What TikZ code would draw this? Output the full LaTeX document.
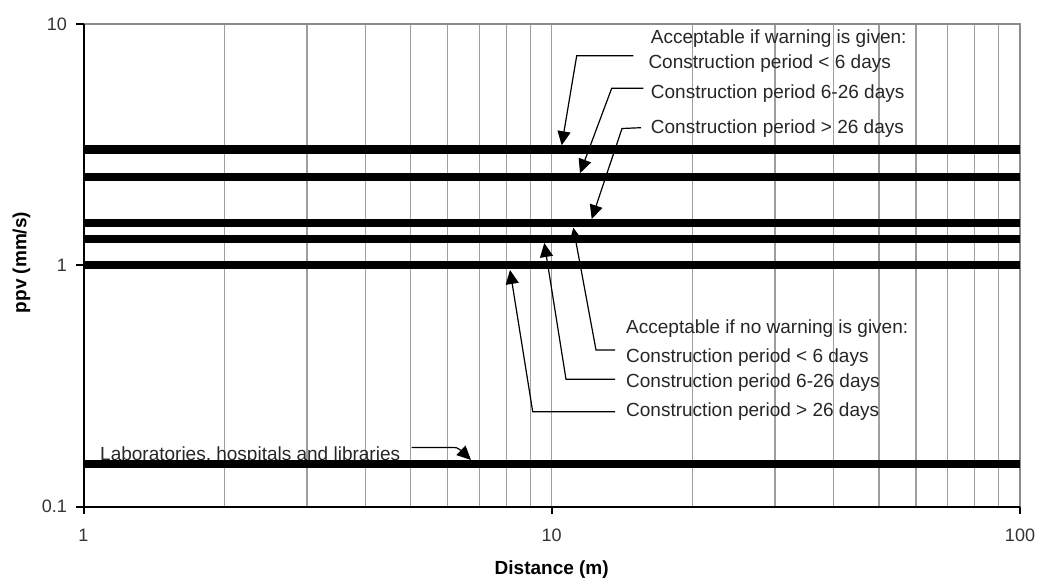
\documentclass[tikz,border=0pt]{standalone}
\usepackage{fontspec}
\setmainfont{Liberation Sans}
\usetikzlibrary{arrows.meta}
\begin{document}
\begin{tikzpicture}[x=1pt,y=-1pt,
  gridline/.style={draw=black!38,line width=1.3pt},
  frameline/.style={draw=black!45,line width=2.2pt},
  axisline/.style={draw=black,line width=2pt},
  dataline/.style={draw=black,line width=8pt},
  leader/.style={draw=black,line width=1.2pt,-{Triangle[length=14pt,width=13pt]}},
  lbl/.style={font=\fontsize{19}{22}\selectfont,inner sep=0pt,anchor=base west,text=black!85},
  ticklbl/.style={font=\fontsize{18}{21}\selectfont,inner sep=0pt,text=black!80},
  axtitle/.style={font=\fontsize{19}{22}\selectfont\bfseries,inner sep=0pt}]
\useasboundingbox (0,0) rectangle (1037,580);
% vertical grid
\foreach \k in {2,...,9,10,20,30,40,50,60,70,80,90} {
  \draw[gridline] ({83.5+468.2*log10(\k)},24) -- ({83.5+468.2*log10(\k)},506.5);
}
\draw[frameline] (83.5,24) -- (1020,24) -- (1020,506.5);
% labels
\node[lbl] (wt) at (650.7,43.3) {Acceptable if warning is given:};
\node[lbl] (w1) at (648.3,68.3) {Construction period < 6 days};
\node[lbl] (w2) at (650.7,99) {Construction period 6-26 days};
\node[lbl] (w3) at (650.7,133.3) {Construction period > 26 days};
\node[lbl] (nt) at (626,333.5) {Acceptable if no warning is given:};
\node[lbl] (n1) at (626,362.3) {Construction period < 6 days};
\node[lbl] (n2) at (626,387) {Construction period 6-26 days};
\node[lbl] (n3) at (626,416.7) {Construction period > 26 days};
\node[lbl] (lab) at (100,460.5) {Laboratories, hospitals and libraries};
% data lines
\draw[dataline,line width=9pt] (83.5,149.6) -- (1020,149.6);
\draw[dataline] (83.5,177.5) -- (1020,177.5);
\draw[dataline] (83.5,223.3) -- (1020,223.3);
\draw[dataline] (83.5,238.8) -- (1020,238.8);
\draw[dataline] (83.5,265.3) -- (1020,265.3);
\draw[dataline] (83.5,464) -- (1020,464);
% axes
\draw[axisline] (83.5,24) -- (83.5,506.5) -- (1020,506.5);
\foreach \yy in {24,265.3,506.5} { \draw[axisline] (76,\yy) -- (83.5,\yy); }
\foreach \xx in {83.5,551.7,1020} { \draw[axisline] (\xx,506.5) -- (\xx,513.5); }
% tick labels
\node[ticklbl,anchor=east] (y10) at (67,24) {10};
\node[ticklbl,anchor=east] (y1) at (67,265.5) {1};
\node[ticklbl,anchor=east] (y01) at (67,506.5) {0.1};
\node[ticklbl] (x1) at (83.5,535) {1};
\node[ticklbl] (x10) at (551.7,535) {10};
\node[ticklbl] (x100) at (1020,535) {100};
\node[axtitle] (xt) at (551.7,570) {Distance (m)};
\node[axtitle,rotate=90] (yt) at (21.5,262.5) {ppv (mm/s)};
% leader coordinates
\coordinate (w1s) at (633.3,55.7); \coordinate (w1c) at (576.7,55.7); \coordinate (w1t) at (561.7,145.3);
\coordinate (w2s) at (643.3,88.3); \coordinate (w2c) at (611.7,88.3); \coordinate (w2t) at (580,173.2);
\coordinate (w3s) at (641,127.7); \coordinate (w3c) at (622,128.5); \coordinate (w3t) at (591.7,219);
\coordinate (n1s) at (615,350); \coordinate (n1c) at (596,350); \coordinate (n1t) at (573.3,227.6);
\coordinate (n2s) at (615,379.3); \coordinate (n2c) at (566,379.3); \coordinate (n2t) at (544.3,243);
\coordinate (n3s) at (615,411.7); \coordinate (n3c) at (532.7,411.7); \coordinate (n3t) at (510,270);
\coordinate (ls) at (411.7,447.5); \coordinate (lc) at (446,447.5); \coordinate (lt) at (471,460);
\draw[leader] (w1s) -- (w1c) -- (w1t);
\draw[leader] (w2s) -- (w2c) -- (w2t);
\draw[leader] (w3s) -- (w3c) -- (w3t);
\draw[leader] (n1s) -- (n1c) -- (n1t);
\draw[leader] (n2s) -- (n2c) -- (n2t);
\draw[leader] (n3s) -- (n3c) -- (n3t);
\draw[leader] (ls) -- (lc) .. controls (458,447.5) .. (lt);
\end{tikzpicture}
\end{document}
